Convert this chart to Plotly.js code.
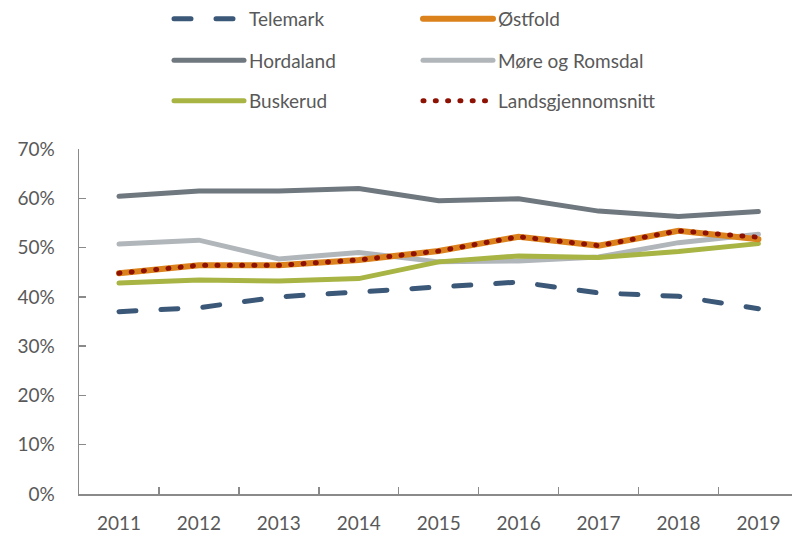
<!DOCTYPE html>
<html>
<head>
<meta charset="utf-8">
<script src="https://cdn.plot.ly/plotly-3.0.1.min.js"></script>
<style>
html,body{margin:0;padding:0;background:#fff;}
#chart{width:792px;height:534px;}
.js-line{stroke-linecap:round;}
</style>
</head>
<body>
<div id="chart"></div>
<script>
var years = ['2011','2012','2013','2014','2015','2016','2017','2018','2019'];
var telemark = [37.0, 37.8, 40.0, 41.0, 42.0, 43.0, 40.8, 40.1, 37.6];
var ostfold = [44.8, 46.4, 46.4, 47.5, 49.3, 52.2, 50.4, 53.4, 51.7];
var hordaland = [60.4, 61.5, 61.5, 62.0, 59.5, 59.9, 57.4, 56.3, 57.3];
var more = [50.7, 51.5, 47.7, 49.0, 47.1, 47.3, 48.1, 51.0, 52.7];
var buskerud = [42.8, 43.4, 43.2, 43.7, 47.1, 48.3, 48.0, 49.2, 50.8];
var lands = [44.8, 46.4, 46.4, 47.5, 49.3, 52.2, 50.4, 53.4, 52.1];
var yTicks = [0, 10, 20, 30, 40, 50, 60, 70];
var yTickText = ['0%', '10%', '20%', '30%', '40%', '50%', '60%', '70%'];

var fontFam = 'Lato, "Open Sans", sans-serif';
var txt = '#595959';

function tr(name, y, color, width, dash, legend) {
  return {x: years, y: y, name: name, type: 'scatter', mode: 'lines',
    line: {color: color, width: width, dash: dash}, legend: legend, hoverinfo: 'skip'};
}

var data = [
  tr('Hordaland', hordaland, '#6F777F', 5, 'solid', 'legend2'),
  tr('Møre og Romsdal', more, '#B1B6BB', 5, 'solid', 'legend2'),
  tr('Buskerud', buskerud, '#A8B443', 5, 'solid', 'legend3'),
  tr('Telemark', telemark, '#3B5878', 5, '17px,25px', 'legend'),
  tr('Østfold', ostfold, '#DB821D', 6, 'solid', 'legend'),
  tr('Landsgjennomsnitt', lands, '#8E1204', 5, '1px,11.3px', 'legend3')
];

function leg(yc) {
  return {orientation: 'h', xref: 'container', yref: 'container',
    x: 169/792, xanchor: 'left', y: 1 - yc/534, yanchor: 'middle',
    itemwidth: 70, entrywidth: 164, entrywidthmode: 'pixels',
    font: {family: fontFam, size: 19, color: txt}, bgcolor: 'rgba(0,0,0,0)',
    itemclick: false, itemdoubleclick: false};
}

var layout = {
  width: 792, height: 534,
  margin: {l: 78.5, r: 0, t: 149, b: 40},
  paper_bgcolor: '#fff', plot_bgcolor: '#fff',
  font: {family: fontFam, size: 19, color: txt},
  showlegend: true,
  legend: leg(19), legend2: leg(60.5), legend3: leg(101),
  xaxis: {type: 'category', range: [-0.5, 8.42], showgrid: false, zeroline: false,
    showline: true, linecolor: '#8A8A8A', linewidth: 1.5,
    ticks: 'inside', tickson: 'boundaries', ticklen: 7, tickcolor: '#8A8A8A', tickwidth: 1.5,
    tickfont: {family: fontFam, size: 19, color: txt}, ticklabelstandoff: 12, fixedrange: true},
  yaxis: {range: [0, 70], tickmode: 'array', tickvals: yTicks, ticktext: yTickText,
    showgrid: false, zeroline: false,
    showline: true, linecolor: '#8A8A8A', linewidth: 1.5,
    ticks: 'inside', ticklen: 7, tickcolor: '#8A8A8A', tickwidth: 1.5,
    tickfont: {family: fontFam, size: 19, color: txt}, ticklabelstandoff: 19, fixedrange: true}
};

Plotly.newPlot('chart', data, layout, {displayModeBar: false, staticPlot: true});
</script>
</body>
</html>
